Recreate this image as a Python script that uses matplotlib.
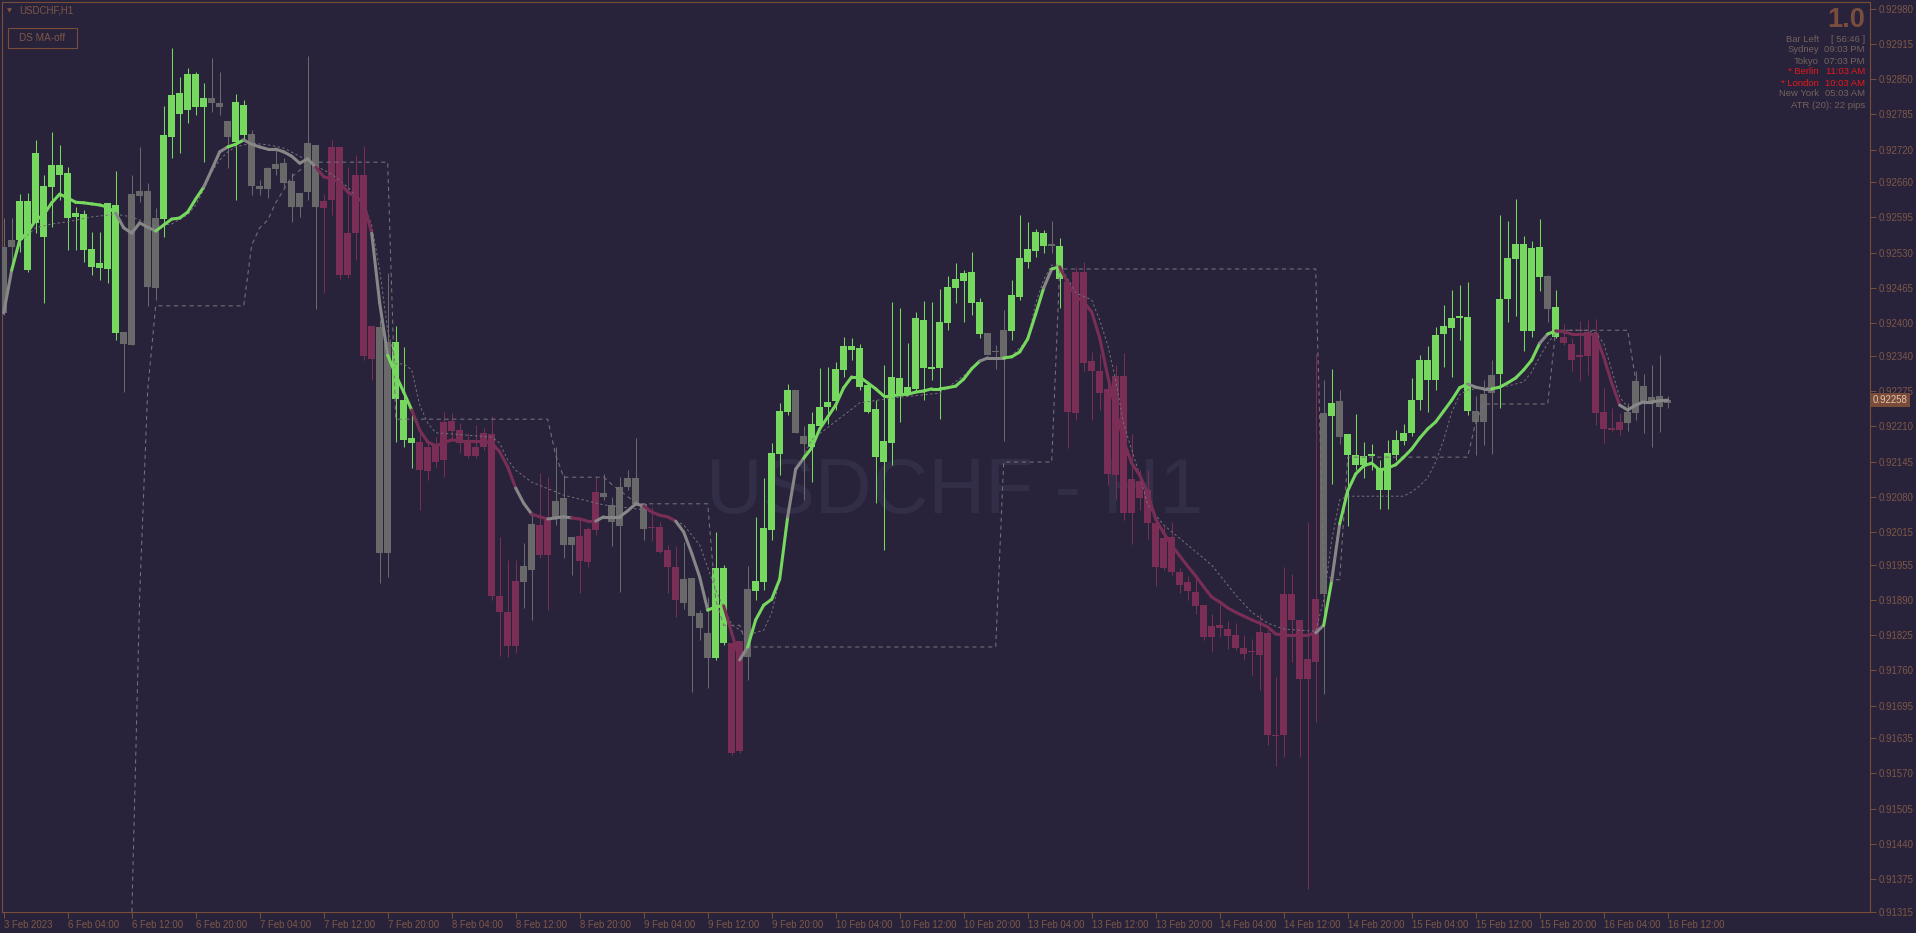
import numpy as np
import matplotlib
matplotlib.use("Agg")
import matplotlib.pyplot as plt
from matplotlib.collections import LineCollection
from matplotlib.patches import Rectangle

POINT = 1e-5  # USDCHF quotes, 5 digits

# ---- H1 bars, 3 Feb 2023 20:00 .. 16 Feb 2023 12:00, prices in points ----
opens = [
    92419, 92540, 92553, 92625, 92585, 92653, 92651, 92692, 92677, 92596,
    92601, 92537, 92502, 92500, 92618, 92384, 92360, 92635, 92644, 92465,
    92592, 92743, 92825, 92793, 92860, 92799, 92815, 92806, 92773, 92734,
    92747, 92749, 92653, 92647, 92684, 92695, 92662, 92614, 92642, 92729,
    92612, 92627, 92725, 92489, 92566, 92673, 92334, 92393, 91976, 92365,
    92258, 92188, 92181, 92127, 92175, 92148, 92220, 92203, 92181, 92155,
    92172, 92196, 91897, 91867, 91805, 91923, 91945, 92028, 91973, 92041,
    92078, 91991, 92008, 91960, 92019, 92087, 92065, 92026, 92098, 92115,
    92067, 92024, 92024, 91982, 91950, 91884, 91930, 91866, 91829, 91783,
    91949, 91810, 91611, 91785, 91906, 91923, 92019, 92159, 92236, 92277,
    92192, 92172, 92210, 92245, 92257, 92314, 92358, 92354, 92286, 92242,
    92144, 92179, 92299, 92271, 92279, 92406, 92316, 92317, 92400, 92465,
    92478, 92494, 92439, 92382, 92349, 92336, 92386, 92448, 92513, 92533,
    92566, 92542, 92542, 92476, 92234, 92494, 92330, 92312, 92279, 92120,
    92303, 92050, 92109, 92092, 92032, 91949, 92006, 91941, 91923, 91904,
    91880, 91821, 91844, 91836, 91825, 91801, 91794, 91788, 91829, 91641,
    91641, 91901, 91853, 91744, 91775, 91901, 92229, 92257, 92196, 92157,
    92139, 92155, 92133, 92092, 92157, 92183, 92198, 92258, 92332, 92295,
    92380, 92391, 92410, 92411, 92238, 92218, 92271, 92306, 92445, 92518,
    92546, 92386, 92541, 92487, 92430, 92375, 92362, 92338, 92340, 92382,
    92236, 92207, 92203, 92216, 92234, 92284, 92255, 92266, 92253,
]
highs = [
    92594, 92594, 92638, 92640, 92738, 92673, 92753, 92729, 92688, 92614,
    92609, 92568, 92568, 92622, 92681, 92384, 92673, 92725, 92659, 92612,
    92801, 92907, 92854, 92871, 92863, 92843, 92889, 92863, 92773, 92823,
    92812, 92756, 92664, 92688, 92719, 92705, 92677, 92640, 92893, 92729,
    92638, 92738, 92725, 92688, 92710, 92727, 92395, 92406, 92493, 92395,
    92356, 92234, 92203, 92179, 92190, 92236, 92234, 92216, 92198, 92212,
    92207, 92229, 92006, 91963, 91963, 91995, 92050, 92124, 92116, 92172,
    92120, 92006, 92043, 92024, 92116, 92122, 92080, 92116, 92129, 92188,
    92067, 92061, 92033, 91991, 91989, 91997, 91930, 91871, 91895, 92015,
    91954, 91810, 91814, 91952, 92043, 92115, 92179, 92253, 92288, 92277,
    92210, 92236, 92317, 92319, 92328, 92375, 92373, 92362, 92286, 92258,
    92323, 92439, 92428, 92363, 92421, 92441, 92439, 92463, 92487, 92511,
    92498, 92531, 92446, 92382, 92360, 92424, 92480, 92600, 92587, 92574,
    92572, 92588, 92557, 92482, 92504, 92513, 92347, 92343, 92295, 92323,
    92345, 92196, 92129, 92129, 92041, 92026, 92033, 91949, 91934, 91934,
    91880, 91864, 91882, 91851, 91847, 91825, 91818, 91864, 91834, 91748,
    91950, 91938, 91853, 92033, 92343, 92295, 92316, 92277, 92196, 92233,
    92181, 92177, 92148, 92185, 92203, 92214, 92299, 92341, 92358, 92393,
    92434, 92461, 92470, 92476, 92266, 92295, 92332, 92600, 92588, 92629,
    92561, 92552, 92592, 92489, 92461, 92399, 92373, 92404, 92406, 92408,
    92281, 92244, 92234, 92253, 92312, 92306, 92323, 92341, 92266,
]
lows = [
    92415, 92498, 92531, 92494, 92566, 92437, 92577, 92627, 92535, 92535,
    92513, 92489, 92480, 92474, 92369, 92273, 92360, 92624, 92432, 92443,
    92559, 92705, 92714, 92769, 92784, 92697, 92789, 92784, 92686, 92627,
    92738, 92636, 92636, 92631, 92673, 92651, 92587, 92596, 92627, 92426,
    92456, 92600, 92482, 92483, 92517, 92332, 92295, 91921, 91932, 92181,
    92172, 92133, 92056, 92111, 92135, 92116, 92185, 92161, 92151, 92151,
    92166, 91890, 91786, 91785, 91792, 91875, 91853, 91967, 91871, 92028,
    91967, 91936, 91903, 91950, 92010, 92074, 91989, 91904, 92092, 92065,
    92000, 91998, 91976, 91903, 91858, 91873, 91720, 91816, 91727, 91779,
    91807, 91604, 91607, 91742, 91890, 91908, 92000, 92120, 92231, 92198,
    92074, 92107, 92203, 92214, 92240, 92301, 92332, 92277, 92234, 92068,
    91982, 92139, 92218, 92268, 92273, 92258, 92295, 92223, 92387, 92437,
    92402, 92415, 92373, 92341, 92316, 92183, 92369, 92443, 92502, 92522,
    92529, 92529, 92428, 92170, 92222, 92312, 92222, 92240, 92102, 92076,
    92037, 91993, 92056, 92002, 91915, 91945, 91936, 91903, 91890, 91864,
    91816, 91794, 91821, 91799, 91797, 91779, 91751, 91724, 91622, 91584,
    91600, 91775, 91600, 91357, 91665, 91716, 92104, 92177, 92026, 92129,
    92115, 92129, 92057, 92057, 92148, 92175, 92192, 92240, 92236, 92277,
    92319, 92301, 92369, 92231, 92157, 92175, 92159, 92244, 92402, 92413,
    92349, 92375, 92459, 92402, 92373, 92360, 92312, 92293, 92304, 92212,
    92179, 92201, 92194, 92201, 92222, 92198, 92172, 92199, 92244,
]
closes = [
    92540, 92553, 92625, 92498, 92714, 92559, 92692, 92673, 92594, 92603,
    92535, 92504, 92511, 92622, 92382, 92362, 92638, 92644, 92467, 92594,
    92747, 92821, 92786, 92860, 92799, 92815, 92806, 92799, 92743, 92808,
    92802, 92653, 92647, 92686, 92694, 92659, 92614, 92640, 92732, 92614,
    92625, 92725, 92489, 92566, 92673, 92340, 92395, 91976, 92365, 92260,
    92185, 92179, 92129, 92172, 92144, 92218, 92201, 92179, 92155, 92172,
    92198, 91897, 91867, 91805, 91925, 91952, 92030, 91973, 92037, 92072,
    91991, 92006, 91961, 92021, 92089, 92080, 92033, 92098, 92115, 92067,
    92021, 92022, 91978, 91950, 91890, 91928, 91860, 91838, 91783, 91949,
    91810, 91607, 91814, 91910, 91925, 92022, 92161, 92238, 92277, 92198,
    92177, 92214, 92245, 92255, 92316, 92358, 92351, 92282, 92236, 92153,
    92183, 92301, 92266, 92282, 92410, 92317, 92319, 92402, 92467, 92482,
    92493, 92437, 92380, 92341, 92347, 92387, 92452, 92520, 92537, 92568,
    92542, 92546, 92482, 92236, 92494, 92327, 92312, 92271, 92122, 92303,
    92050, 92113, 92078, 92032, 91950, 92004, 91941, 91917, 91906, 91879,
    91821, 91842, 91838, 91823, 91801, 91790, 91796, 91831, 91641, 91639,
    91901, 91853, 91744, 91781, 91891, 92234, 92253, 92190, 92157, 92139,
    92155, 92159, 92092, 92161, 92185, 92198, 92258, 92332, 92295, 92378,
    92395, 92410, 92413, 92238, 92218, 92269, 92304, 92445, 92520, 92546,
    92386, 92539, 92485, 92426, 92375, 92363, 92332, 92341, 92384, 92234,
    92205, 92203, 92218, 92236, 92293, 92253, 92264, 92246, 92258,
]

# DS MA value per bar (points)
ma_values = [
    92419, 92498, 92553, 92568, 92590, 92600, 92622, 92638, 92631, 92623,
    92622, 92620, 92618, 92614, 92603, 92576, 92566, 92585, 92577, 92570,
    92581, 92592, 92594, 92605, 92629, 92651, 92683, 92716, 92725, 92730,
    92738, 92730, 92725, 92721, 92721, 92716, 92708, 92695, 92703, 92688,
    92670, 92666, 92660, 92642, 92633, 92622, 92566, 92437, 92341, 92305,
    92273, 92240, 92203, 92181, 92174, 92179, 92185, 92183, 92183, 92183,
    92183, 92179, 92163, 92135, 92096, 92068, 92048, 92043, 92039, 92041,
    92043, 92041, 92039, 92035, 92035, 92043, 92043, 92043, 92054, 92067,
    92063, 92052, 92046, 92043, 92035, 92015, 91976, 91932, 91871, 91877,
    91879, 91829, 91779, 91803, 91853, 91880, 91891, 91928, 92043, 92131,
    92151, 92170, 92205, 92227, 92249, 92281, 92301, 92301, 92290, 92279,
    92266, 92266, 92268, 92269, 92273, 92275, 92279, 92279, 92281, 92284,
    92297, 92316, 92330, 92336, 92336, 92336, 92338, 92347, 92371, 92417,
    92465, 92500, 92504, 92474, 92450, 92439, 92421, 92373, 92303, 92240,
    92183, 92142, 92120, 92087, 92039, 92013, 91991, 91971, 91952, 91934,
    91914, 91895, 91886, 91875, 91867, 91860, 91853, 91847, 91840, 91827,
    91825, 91825, 91825, 91825, 91829, 91843, 91925, 92030, 92091, 92122,
    92137, 92142, 92129, 92133, 92139, 92153, 92168, 92188, 92205, 92218,
    92238, 92258, 92281, 92288, 92282, 92279, 92279, 92282, 92290, 92299,
    92314, 92332, 92363, 92380, 92386, 92384, 92380, 92380, 92380, 92378,
    92338, 92290, 92249, 92240, 92249, 92255, 92255, 92257, 92258,
]

# MA trend state, run-length coded: u = up (green), d = down (maroon), n = flat (grey)
trend_runs = [
    ("n", 2), ("u", 13), ("n", 5), ("u", 6), ("n", 3), ("u", 2), ("n", 9),
    ("d", 7), ("n", 2), ("u", 3), ("d", 13), ("n", 2), ("d", 2), ("n", 3),
    ("d", 3), ("n", 6), ("d", 4), ("n", 4), ("u", 2), ("d", 2), ("n", 1),
    ("u", 5), ("n", 2), ("u", 22), ("n", 3), ("u", 5), ("n", 1), ("u", 1),
    ("d", 32), ("n", 1), ("u", 1), ("n", 1), ("u", 16), ("n", 3), ("u", 6),
    ("n", 1), ("u", 1), ("d", 8), ("n", 6),
]

# stepped trailing level (dashed)
stop_bars = [16, 17, 18, 19, 30, 31, 32, 33, 34, 35, 36, 37, 38, 39, 48, 49,
             68, 69, 70, 75, 76, 77, 78, 79, 80, 88, 89, 90, 92, 93, 124, 125,
             131, 132, 164, 165, 166, 167, 168, 183, 184, 185, 193, 194, 203, 204]
stop_prices = [91300, 91899, 92277, 92432, 92432, 92544, 92576, 92590, 92622,
               92646, 92670, 92682, 92692, 92697, 92697, 92223, 92223, 92157,
               92116, 92116, 92103, 92092, 92080, 92070, 92067, 92067, 91890,
               91843, 91843, 91803, 91803, 92144, 92144, 92500, 92500, 91945,
               91927, 91927, 92153, 92153, 92218, 92251, 92251, 92387, 92387,
               92295]

# slow signal line (finer dashes)
slow_bars = [2, 3, 4, 6, 8, 11, 14, 16, 19, 21, 23, 24, 25, 26, 27, 28, 29, 31,
             33, 35, 37, 39, 41, 43, 45, 46, 47, 48, 49, 50, 51, 52, 53, 54, 61,
             62, 63, 64, 66, 70, 75, 80, 83, 85, 87, 89, 91, 93, 95, 96, 97, 98,
             99, 101, 107, 111, 117, 120, 122, 124, 126, 128, 129, 130, 131, 132,
             134, 136, 137, 138, 139, 140, 142, 143, 145, 148, 151, 154, 156, 158,
             160, 164, 165, 166, 167, 168, 175, 176, 177, 178, 179, 180, 181, 182,
             183, 185, 188, 190, 191, 192, 193, 194, 195, 198, 199, 200, 201, 202,
             203]
slow_prices = [92550, 92563, 92576, 92583, 92587, 92596, 92601, 92596, 92579,
               92583, 92600, 92618, 92646, 92679, 92701, 92716, 92725, 92732,
               92729, 92723, 92708, 92690, 92675, 92651, 92618, 92581, 92498,
               92387, 92325, 92325, 92314, 92249, 92216, 92198, 92190, 92179,
               92148, 92129, 92107, 92083, 92065, 92056, 92043, 92028, 91991,
               91908, 91844, 91825, 91834, 91866, 91928, 92056, 92126, 92185,
               92253, 92262, 92271, 92303, 92332, 92336, 92340, 92369, 92437,
               92480, 92507, 92507, 92456, 92443, 92406, 92360, 92295, 92214,
               92120, 92065, 92028, 91991, 91954, 91899, 91867, 91847, 91836,
               91832, 91890, 92000, 92074, 92081, 92081, 92089, 92100, 92115,
               92144, 92185, 92236, 92268, 92277, 92281, 92284, 92292, 92310,
               92338, 92363, 92382, 92387, 92387, 92382, 92363, 92314, 92264,
               92245]

x_labels = ["3 Feb 2023", "6 Feb 04:00", "6 Feb 12:00", "6 Feb 20:00",
            "7 Feb 04:00", "7 Feb 12:00", "7 Feb 20:00", "8 Feb 04:00",
            "8 Feb 12:00", "8 Feb 20:00", "9 Feb 04:00", "9 Feb 12:00",
            "9 Feb 20:00", "10 Feb 04:00", "10 Feb 12:00", "10 Feb 20:00",
            "13 Feb 04:00", "13 Feb 12:00", "13 Feb 20:00", "14 Feb 04:00",
            "14 Feb 12:00", "14 Feb 20:00", "15 Feb 04:00", "15 Feb 12:00",
            "15 Feb 20:00", "16 Feb 04:00", "16 Feb 12:00"]
BARS_PER_LABEL = 8

y_labels = ["0.92980", "0.92915", "0.92850", "0.92785", "0.92720", "0.92660",
            "0.92595", "0.92530", "0.92465", "0.92400", "0.92340", "0.92275",
            "0.92210", "0.92145", "0.92080", "0.92015", "0.91955", "0.91890",
            "0.91825", "0.91760", "0.91695", "0.91635", "0.91570", "0.91505",
            "0.91440", "0.91375", "0.91315"]

info_labels = ["Bar Left", "Sydney", "Tokyo", "* Berlin", "* London", "New York"]
info_values = ["[ 56:46 ]", "09:03 PM", "07:03 PM", "11:03 AM", "10:03 AM", "05:03 AM"]
info_alert = [False, False, False, True, True, False]
atr_text = "ATR (20): 22 pips"

# ---- style ----
BG = "#28233a"
UP = "#77d85f"
DN = "#7a2e55"
FLAT = "#696969"
MA_FLAT = "#878787"
DASH_C = "#77717b"
AXIS_C = "#7a4d3b"
TEXT_C = "#7e5747"
INFO_C = "#74625d"
ALERT_C = "#e5191c"
MARK_C = "#332e48"

plt.rcParams["font.family"] = ["Liberation Sans", "DejaVu Sans"]

W, H = 1916, 933
fig = plt.figure(figsize=(W / 100, H / 100), dpi=100, facecolor=BG)
ax = fig.add_axes([2 / W, 21 / H, 1868 / W, 910 / H], facecolor=BG)

o = np.array(opens) * POINT
h = np.array(highs) * POINT
l = np.array(lows) * POINT
c = np.array(closes) * POINT
ma = np.array(ma_values) * POINT
n = len(o)
x = np.arange(n)

trend = []
for state, count in trend_runs:
    trend += [state] * count
candle_col = {"u": UP, "d": DN, "n": FLAT}
ma_col = {"u": UP, "d": DN, "n": MA_FLAT}
colors = [candle_col[s] for s in trend]

# watermark
ax.text(0.5102, 0.4385, "USDCHF - H1", transform=ax.transAxes, ha="center",
        va="baseline", fontsize=56.5, color=MARK_C, zorder=0)

# candles
body_lo = np.minimum(o, c)
body_h = np.maximum(np.abs(c - o), 2.2 * POINT)
ax.vlines(x, l, h, colors=colors, linewidth=0.75, zorder=2)
ax.bar(x, body_h, bottom=body_lo, width=0.84, color=colors, linewidth=0,
       zorder=3)

# dashed levels
ax.plot(stop_bars, np.array(stop_prices) * POINT, color=DASH_C, lw=0.75,
        dashes=(4, 3.5), zorder=4)
ax.plot(slow_bars, np.array(slow_prices) * POINT, color=DASH_C, lw=0.7,
        dashes=(2.5, 2.5), zorder=4)

# coloured MA
segs = [[(i - 1, ma[i - 1]), (i, ma[i])] for i in range(1, n)]
lc = LineCollection(segs, colors=[ma_col[s] for s in trend[1:]], linewidths=2.2,
                    capstyle="round", zorder=5)
ax.add_collection(lc)

ax.set_xlim(-0.2125, 233.29)
ax.set_ylim(0.913143, 0.929923)

# axes frame and ticks
for sp in ax.spines.values():
    sp.set_color(AXIS_C)
    sp.set_linewidth(0.8)

ax.yaxis.tick_right()
ax.set_yticks([float(v) for v in y_labels])
ax.set_yticklabels(y_labels)
ax.tick_params(axis="y", direction="out", length=4, width=0.75, color=AXIS_C,
               labelsize=6.9, labelcolor=TEXT_C, pad=2)

ax.set_xticks(np.arange(len(x_labels)) * BARS_PER_LABEL)
ax.set_xticklabels(x_labels, ha="left")
ax.tick_params(axis="x", direction="out", length=4, width=0.75, color=AXIS_C,
               labelsize=6.9, labelcolor=TEXT_C, pad=1.5)

# current price tag
ax.text(1.0 + 3 / 1868, c[-1], f"{c[-1]:.5f}", transform=ax.get_yaxis_transform(),
        ha="left", va="center", fontsize=6.9, color="#e2c6b4", zorder=10,
        bbox=dict(boxstyle="square,pad=0.2", fc="#7a4b39", ec="none"))


def fx(px):
    return px / W


def fy(py):
    return 1 - py / H


# chart title and button, top left
fig.text(fx(7), fy(10.5), "\u25BC", family="DejaVu Sans", fontsize=4.6,
         color=TEXT_C, va="center")
fig.text(fx(19), fy(10.5), "USDCHF,H1", fontsize=7.0, color=TEXT_C, va="center")
fig.add_artist(Rectangle((fx(7.5), fy(48)), 69 / W, 20.5 / H,
                         transform=fig.transFigure, fill=False, ec=AXIS_C, lw=0.8))
fig.text(fx(42), fy(38), "DS MA-off", fontsize=7.2, color=TEXT_C, ha="center",
         va="center")

# info panel, top right
fig.text(fx(1865), fy(20), "1.0", fontsize=19.5, fontweight="bold",
         color="#7a4e3e", ha="right", va="center")
for k, (lab, val, alert) in enumerate(zip(info_labels, info_values, info_alert)):
    col = ALERT_C if alert else INFO_C
    yy = fy(39 + 11 * k)
    fig.text(fx(1819), yy, lab, fontsize=6.8, color=col, ha="right", va="center")
    fig.text(fx(1865), yy, val, fontsize=6.8, color=col, ha="right", va="center")
fig.text(fx(1865), fy(39 + 11 * len(info_labels)), atr_text, fontsize=6.8,
         color=INFO_C, ha="right", va="center")

fig.savefig("out.png", dpi=100, facecolor=BG)
